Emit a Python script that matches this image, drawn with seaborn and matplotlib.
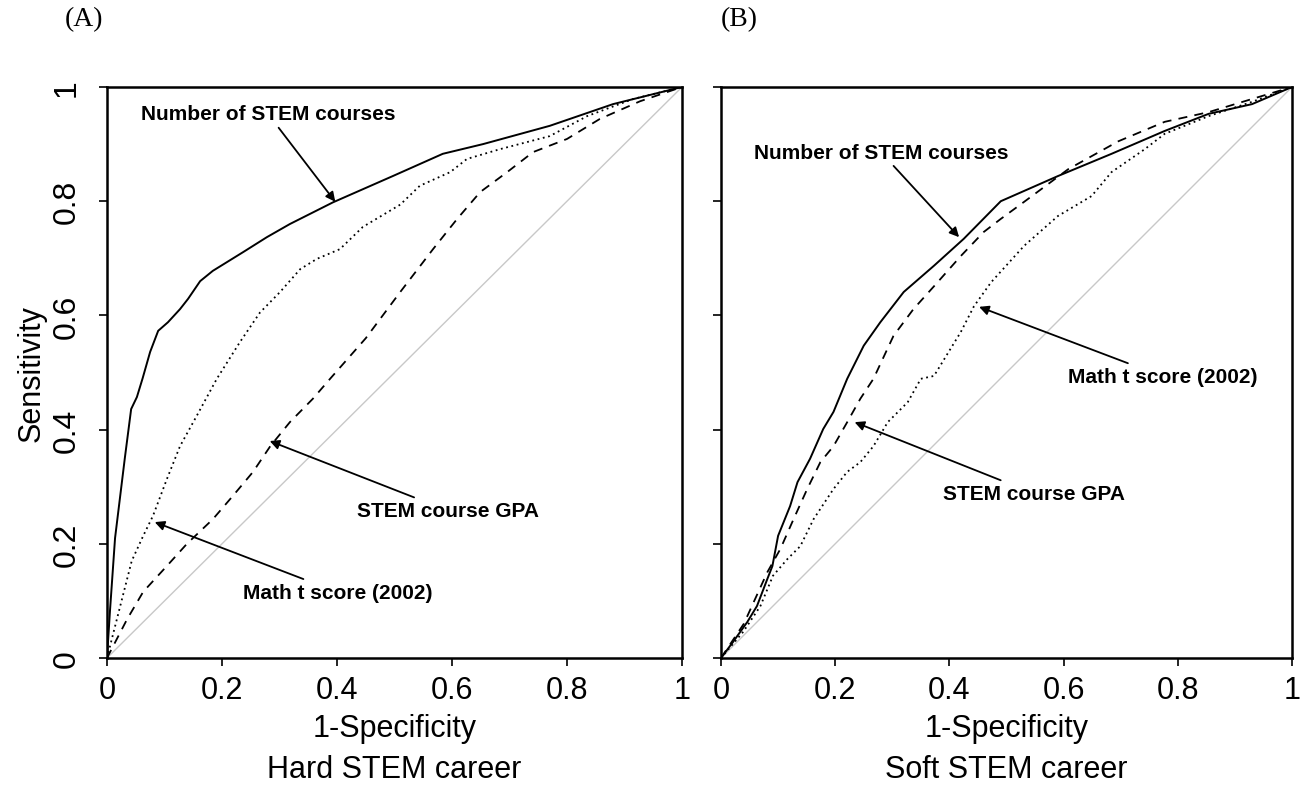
import numpy as np
import pandas as pd
import matplotlib
matplotlib.use("Agg")
import matplotlib.pyplot as plt
import seaborn as sns

# ---------------- data ----------------
# Panel A: Hard STEM career
a_courses_x = [0, 0.005, 0.014, 0.031, 0.042, 0.052, 0.062, 0.075, 0.089, 0.106, 0.127, 0.141, 0.162, 0.184,
               0.237, 0.278, 0.318, 0.393, 0.497, 0.584, 0.654, 0.77, 0.88, 1.0]
a_courses_y = [0, 0.08, 0.21, 0.35, 0.436, 0.457, 0.49, 0.536, 0.573, 0.588, 0.611, 0.629, 0.66, 0.678,
               0.711, 0.737, 0.76, 0.798, 0.844, 0.883, 0.9, 0.932, 0.97, 1.0]
a_math_x = [0, 0.023, 0.043, 0.063, 0.08, 0.104, 0.127, 0.156, 0.191, 0.231, 0.266, 0.301, 0.336, 0.365,
            0.405, 0.445, 0.51, 0.544, 0.597, 0.626, 0.683, 0.77, 0.835, 0.915, 1.0]
a_math_y = [0, 0.091, 0.17, 0.214, 0.249, 0.313, 0.371, 0.424, 0.489, 0.553, 0.605, 0.641, 0.681, 0.699,
            0.716, 0.755, 0.794, 0.827, 0.851, 0.874, 0.891, 0.914, 0.949, 0.979, 1.0]
a_gpa_x = [0, 0.035, 0.063, 0.104, 0.139, 0.184, 0.219, 0.254, 0.284, 0.318, 0.358, 0.388, 0.45, 0.51,
           0.567, 0.609, 0.649, 0.696, 0.741, 0.8, 0.857, 0.927, 1.0]
a_gpa_y = [0, 0.068, 0.116, 0.161, 0.2, 0.243, 0.284, 0.326, 0.371, 0.413, 0.454, 0.489, 0.56, 0.641,
           0.716, 0.769, 0.816, 0.851, 0.886, 0.909, 0.944, 0.975, 1.0]

# Panel B: Soft STEM career
b_courses_x = [0, 0.021, 0.046, 0.063, 0.081, 0.09, 0.1, 0.121, 0.134, 0.156, 0.179, 0.197, 0.221, 0.25,
               0.279, 0.32, 0.373, 0.425, 0.49, 0.59, 0.684, 0.777, 0.854, 0.93, 1.0]
b_courses_y = [0, 0.028, 0.063, 0.091, 0.138, 0.161, 0.214, 0.266, 0.308, 0.349, 0.401, 0.431, 0.489, 0.547,
               0.588, 0.641, 0.687, 0.734, 0.8, 0.844, 0.883, 0.923, 0.953, 0.97, 1.0]
b_gpa_x = [0, 0.04, 0.081, 0.104, 0.127, 0.151, 0.174, 0.197, 0.221, 0.244, 0.267, 0.302, 0.337, 0.373,
           0.42, 0.46, 0.49, 0.531, 0.608, 0.696, 0.777, 0.854, 0.93, 1.0]
b_gpa_y = [0, 0.06, 0.15, 0.191, 0.243, 0.296, 0.343, 0.371, 0.413, 0.454, 0.489, 0.564, 0.611, 0.651,
           0.704, 0.746, 0.769, 0.799, 0.856, 0.905, 0.939, 0.956, 0.979, 1.0]
b_math_x = [0, 0.039, 0.069, 0.091, 0.116, 0.139, 0.162, 0.197, 0.221, 0.244, 0.267, 0.292, 0.327, 0.35,
            0.373, 0.42, 0.443, 0.473, 0.531, 0.59, 0.649, 0.684, 0.742, 0.777, 0.854, 0.93, 1.0]
b_math_y = [0, 0.046, 0.091, 0.144, 0.173, 0.196, 0.243, 0.296, 0.326, 0.343, 0.371, 0.413, 0.448, 0.489,
            0.494, 0.571, 0.616, 0.658, 0.722, 0.774, 0.809, 0.851, 0.891, 0.918, 0.949, 0.974, 1.0]

ticks = [0, 0.2, 0.4, 0.6, 0.8, 1]
tick_labels = ["0", "0.2", "0.4", "0.6", "0.8", "1"]
panel_labels = ["(A)", "(B)"]
xlabels = ["1-Specificity\nHard STEM career", "1-Specificity\nSoft STEM career"]
ylabel = "Sensitivity"

# annotations: (text, text anchor, horizontal alignment, arrow head) in data coordinates
ann_a = [("Number of STEM courses", (0.28, 0.953), "center", (0.397, 0.799)),
         ("STEM course GPA", (0.435, 0.258), "left", (0.283, 0.38)),
         ("Math t score (2002)", (0.237, 0.115), "left", (0.083, 0.238))]
ann_b = [("Number of STEM courses", (0.28, 0.886), "center", (0.417, 0.737)),
         ("Math t score (2002)", (0.608, 0.493), "left", (0.452, 0.615)),
         ("STEM course GPA", (0.389, 0.288), "left", (0.234, 0.413))]

# ---------------- plotting ----------------
sns.set_theme(style="white")
plt.rcParams["font.family"] = ["Liberation Sans", "DejaVu Sans"]
plt.rcParams["text.color"] = "black"
plt.rcParams["axes.labelcolor"] = "black"
plt.rcParams["xtick.color"] = "black"
plt.rcParams["ytick.color"] = "black"

fig = plt.figure(figsize=(13.11, 8.03), dpi=100)
axA = fig.add_axes([107 / 1311, 1 - 659 / 803, (682 - 107) / 1311, (659 - 88) / 803])
axB = fig.add_axes([721 / 1311, 1 - 659 / 803, (1292 - 721) / 1311, (659 - 88) / 803])

dotted = (0, (1, 2.0))
dashed = (0, (5, 4))

panels = [
    (axA, [(a_courses_x, a_courses_y, "-"), (a_math_x, a_math_y, dotted), (a_gpa_x, a_gpa_y, dashed)], ann_a),
    (axB, [(b_courses_x, b_courses_y, "-"), (b_gpa_x, b_gpa_y, dashed), (b_math_x, b_math_y, dotted)], ann_b),
]

for i, (ax, curves, anns) in enumerate(panels):
    sns.lineplot(x=[0, 1], y=[0, 1], ax=ax, color="#c8c8c8", linewidth=1.0)
    for xs, ys, ls in curves:
        sns.lineplot(x=xs, y=ys, ax=ax, color="black", linewidth=1.4 if ls == "-" else 1.3,
                     linestyle=ls, sort=False, estimator=None)
    for txt, tpos, ha, head in anns:
        ax.annotate(txt, xy=head, xytext=tpos, textcoords="data",
                    fontsize=15, fontweight="bold", color="black",
                    ha=ha, va="center",
                    arrowprops=dict(arrowstyle="-|>", color="black", lw=1.3,
                                    mutation_scale=14, shrinkA=1, shrinkB=0))
    ax.set_xlim(0, 1)
    ax.set_ylim(0, 1)
    ax.set_xticks(ticks)
    ax.set_xticklabels(tick_labels, fontsize=22, color="black")
    ax.set_yticks(ticks)
    if i == 0:
        ax.set_yticklabels(tick_labels, fontsize=23, rotation=90, va="center", color="black")
        ax.set_ylabel(ylabel, fontsize=22, labelpad=4, color="black")
    else:
        ax.set_yticklabels([])
    ax.set_xlabel(xlabels[i], fontsize=22, linespacing=1.5, labelpad=6, color="black")
    ax.tick_params(axis="both", direction="out", length=6, width=1.2, color="black",
                   bottom=True, left=True, pad=6)
    ax.tick_params(axis="y", pad=12)
    for sp in ax.spines.values():
        sp.set_color("black")
        sp.set_linewidth(1.8)
    ax.grid(False)
    px0 = -0.073 if i == 0 else 0.0
    ax.text(px0, 1.12, panel_labels[i], transform=ax.transAxes, fontsize=20, color="black",
            family=["Liberation Serif", "DejaVu Serif"], ha="left", va="center")

fig.savefig("out.png", dpi=100, facecolor="white")
